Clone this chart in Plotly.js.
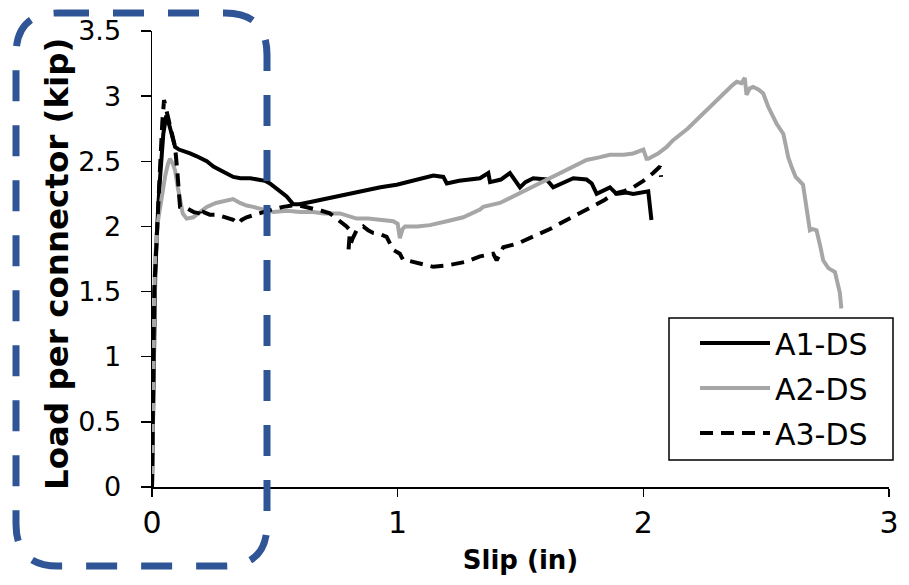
<!DOCTYPE html>
<html>
<head>
<meta charset="utf-8">
<script src="https://cdn.plot.ly/plotly-3.0.1.min.js"></script>
<style>html,body{margin:0;padding:0;background:#fff;}#chart{width:909px;height:585px;}</style>
</head>
<body>
<div id="chart"></div>
<script>
const a1_x = [0,0.004,0.008,0.013,0.02,0.03,0.046,0.058,0.07,0.08,0.094,0.11,0.13,0.155,0.18,0.2,0.223,0.25,0.277,0.3,0.331,0.36,0.4,0.44,0.46,0.48,0.5,0.525,0.548,0.575,0.6,0.65,0.7,0.75,0.8,0.86,0.93,0.996,1.06,1.1,1.145,1.186,1.2,1.25,1.3,1.335,1.369,1.376,1.42,1.457,1.498,1.52,1.552,1.606,1.633,1.67,1.715,1.769,1.79,1.81,1.84,1.864,1.891,1.93,1.959,2.0,2.02,2.033];
const a1_y = [0,0.5,1.1,1.6,1.95,2.3,2.71,2.85,2.78,2.7,2.61,2.59,2.58,2.56,2.54,2.52,2.5,2.46,2.43,2.41,2.38,2.37,2.37,2.36,2.35,2.33,2.3,2.26,2.23,2.17,2.17,2.19,2.21,2.23,2.25,2.27,2.3,2.32,2.35,2.37,2.39,2.38,2.33,2.35,2.36,2.37,2.41,2.34,2.36,2.41,2.3,2.34,2.37,2.36,2.3,2.33,2.37,2.36,2.33,2.25,2.28,2.3,2.25,2.26,2.25,2.26,2.27,2.05];

const a2_x = [0,0.003,0.006,0.009,0.012,0.025,0.04,0.053,0.065,0.073,0.085,0.094,0.105,0.114,0.125,0.141,0.168,0.195,0.223,0.26,0.304,0.33,0.358,0.385,0.412,0.45,0.494,0.55,0.602,0.656,0.7,0.765,0.8,0.833,0.88,0.928,0.982,1.0,1.009,1.02,1.03,1.08,1.131,1.2,1.267,1.335,1.348,1.416,1.48,1.552,1.62,1.688,1.769,1.82,1.864,1.92,1.959,2.0,2.013,2.02,2.06,2.095,2.12,2.18,2.244,2.29,2.325,2.36,2.38,2.4,2.413,2.42,2.433,2.447,2.47,2.488,2.508,2.525,2.542,2.57,2.58,2.59,2.605,2.62,2.65,2.665,2.678,2.69,2.705,2.72,2.732,2.753,2.77,2.78,2.79,2.8,2.806];
const a2_y = [0,0.4,0.9,1.3,1.74,2.05,2.25,2.38,2.48,2.52,2.48,2.43,2.3,2.2,2.1,2.06,2.07,2.11,2.15,2.18,2.2,2.21,2.18,2.16,2.15,2.13,2.11,2.12,2.11,2.11,2.1,2.1,2.08,2.06,2.06,2.05,2.04,2.02,1.91,1.98,2.0,2.0,2.01,2.04,2.07,2.13,2.15,2.18,2.24,2.3,2.37,2.43,2.51,2.53,2.55,2.55,2.56,2.59,2.52,2.52,2.56,2.61,2.66,2.75,2.87,2.95,3.02,3.08,3.11,3.1,3.14,3.01,3.06,3.07,3.05,3.02,2.92,2.86,2.79,2.71,2.62,2.53,2.45,2.38,2.32,2.15,1.97,1.98,1.97,1.85,1.74,1.68,1.66,1.65,1.57,1.49,1.37];

const a3_x = [0,0.003,0.005,0.007,0.009,0.02,0.033,0.042,0.049,0.06,0.073,0.094,0.104,0.114,0.141,0.17,0.195,0.2,0.21,0.235,0.263,0.3,0.331,0.345,0.351,0.365,0.385,0.42,0.453,0.49,0.534,0.57,0.602,0.656,0.69,0.724,0.76,0.792,0.806,0.8,0.815,0.833,0.86,0.88,0.9,0.93,0.955,0.982,1.009,1.023,1.036,1.08,1.145,1.2,1.267,1.28,1.335,1.389,1.403,1.43,1.49,1.552,1.62,1.688,1.74,1.796,1.84,1.878,1.92,1.959,2.0,2.04,2.068,2.072];
const a3_y = [0,0.3,0.7,1.1,1.51,2.0,2.46,2.8,2.97,2.88,2.77,2.61,2.4,2.15,2.14,2.11,2.1,2.07,2.11,2.09,2.09,2.07,2.05,2.03,2.02,2.05,2.07,2.09,2.11,2.13,2.15,2.16,2.16,2.14,2.12,2.1,2.05,2.0,1.97,1.82,1.9,1.97,2.0,1.97,1.95,1.94,1.92,1.82,1.79,1.74,1.74,1.72,1.69,1.7,1.72,1.73,1.77,1.79,1.74,1.84,1.87,1.92,1.98,2.05,2.1,2.15,2.2,2.25,2.27,2.3,2.35,2.41,2.46,2.38];

const seriesNames = ["A1-DS", "A2-DS", "A3-DS"];
const xTicks = [0, 1, 2, 3];
const yTicks = [0, 0.5, 1, 1.5, 2, 2.5, 3, 3.5];
const yTickText = ["0", "0.5", "1", "1.5", "2", "2.5", "3", "3.5"];
const xTitle = "Slip (in)";
const yTitle = "Load per connector (kip)";

const W = 909, H = 585;
const M = {l: 152, r: 20, t: 31, b: 98};
const pw = W - M.l - M.r, ph = H - M.t - M.b;
function px(xp) { return (xp - M.l) / pw; }
function py(yp) { return (H - M.b - yp) / ph; }
function pt(xp, yp) { return px(xp).toFixed(5) + ',' + py(yp).toFixed(5); }

// rounded dashed rectangle, pixel geometry converted to paper coordinates
const L = 16, R = 267, T = 13, B = 566, rad = 42;
const boxPath =
  'M' + pt(L + rad, T) + ' L' + pt(R - rad, T) +
  ' Q' + pt(R, T) + ' ' + pt(R, T + rad) +
  ' L' + pt(R, B - rad) +
  ' Q' + pt(R, B) + ' ' + pt(R - rad, B) +
  ' L' + pt(L + rad, B) +
  ' Q' + pt(L, B) + ' ' + pt(L, B - rad) +
  ' L' + pt(L, T + rad) +
  ' Q' + pt(L, T) + ' ' + pt(L + rad, T) + ' Z';

const font = "'DejaVu Sans', Arial, sans-serif";

const traces = [
  {x: a1_x, y: a1_y, name: seriesNames[0], mode: 'lines', legendgroup: 'g1',
   line: {color: '#000000', width: 4}},
  {x: a2_x, y: a2_y, name: seriesNames[1], mode: 'lines', legendgroup: 'g2',
   line: {color: '#a6a6a6', width: 4}},
  {x: a3_x, y: a3_y, name: seriesNames[2], mode: 'lines', legendgroup: 'g3',
   line: {color: '#000000', width: 4, dash: '13px,8px'}}
];

const layout = {
  width: W, height: H,
  margin: M,
  paper_bgcolor: '#ffffff', plot_bgcolor: '#ffffff',
  font: {family: font, color: '#000000', size: 20},
  showlegend: true,
  legend: {
    x: px(695), y: py(317), xanchor: 'left', yanchor: 'top',
    borderwidth: 0, bgcolor: 'rgba(0,0,0,0)',
    font: {family: font, size: 30, color: '#000000'},
    itemwidth: 70, tracegroupgap: 3, traceorder: 'grouped'
  },
  xaxis: {
    range: [0, 3], tickvals: xTicks, ticktext: xTicks.map(String),
    showgrid: false, zeroline: false, showline: true, linecolor: '#000000', linewidth: 1.5,
    ticks: 'outside', ticklen: 8, tickwidth: 1.5, tickcolor: '#000000',
    tickfont: {family: font, size: 30},
    title: {text: '<b>' + xTitle + '</b>', font: {family: font, size: 26}, standoff: 12},
    fixedrange: true
  },
  yaxis: {
    range: [0, 3.5], tickvals: yTicks, ticktext: yTickText,
    showgrid: false, zeroline: false, showline: true, linecolor: '#000000', linewidth: 1.5,
    ticks: 'outside', ticklen: 10, tickwidth: 1.5, tickcolor: '#000000',
    tickfont: {family: font, size: 27}, ticklabelstandoff: 14,
    fixedrange: true
  },
  annotations: [{
    xref: 'paper', yref: 'paper', x: px(57), y: py(264),
    xanchor: 'center', yanchor: 'middle', textangle: -90, showarrow: false,
    text: '<b>' + yTitle + '</b>', font: {family: font, size: 32.5, color: '#000000'}
  }],
  shapes: [
    {type: 'rect', xref: 'paper', yref: 'paper', layer: 'above',
     x0: px(669), x1: px(893), y0: py(460), y1: py(318),
     line: {color: '#000000', width: 1.5}, fillcolor: 'rgba(0,0,0,0)'},
    {type: 'path', xref: 'paper', yref: 'paper', layer: 'above',
     path: boxPath,
     line: {color: '#2f5597', width: 7, dash: '31px,24px'}}
  ]
};

Plotly.newPlot('chart', traces, layout, {staticPlot: true, displayModeBar: false});
</script>
</body>
</html>
